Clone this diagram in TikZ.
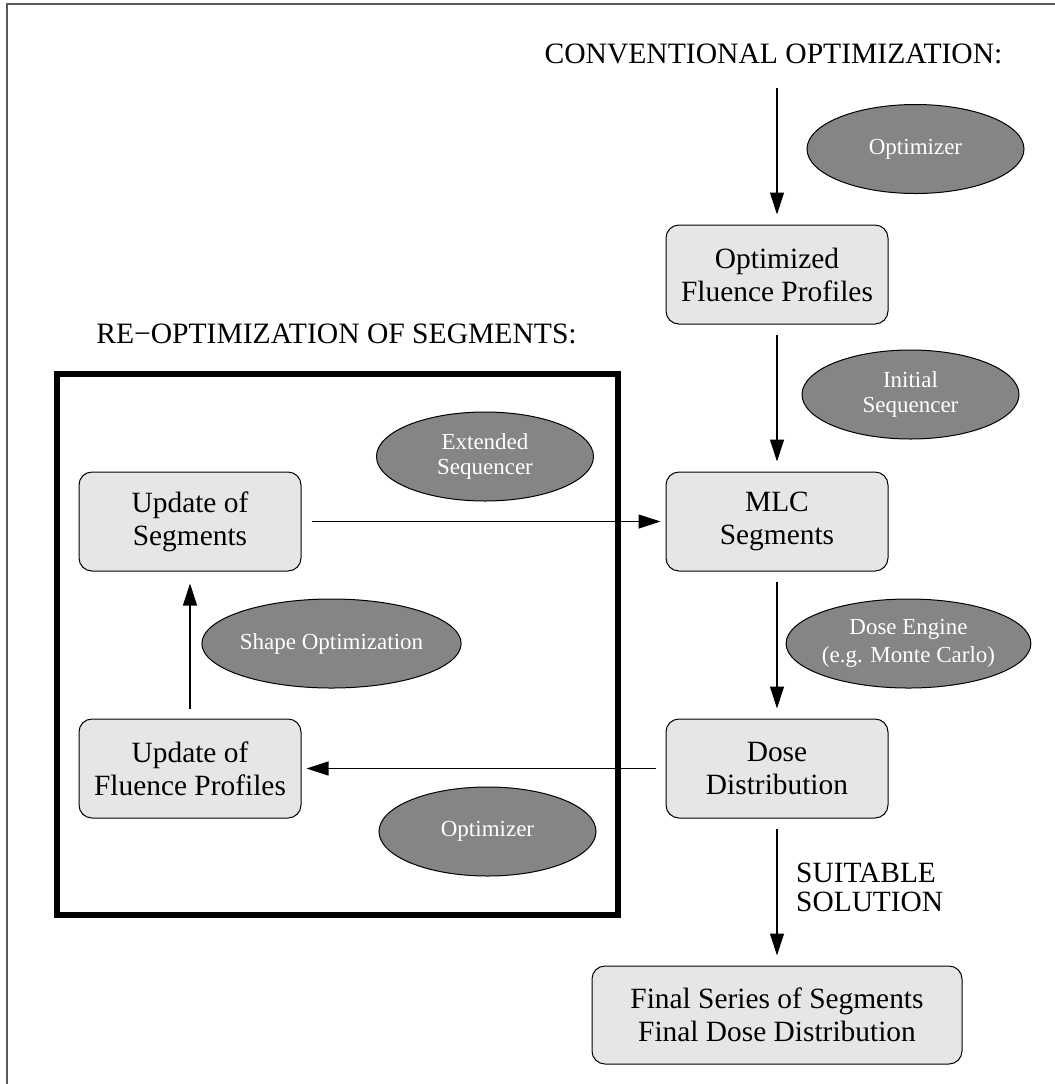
\documentclass[tikz,border=0pt]{standalone}
\usepackage{fontspec}
\setmainfont{Liberation Serif}
\usetikzlibrary{arrows.meta,positioning,shapes.geometric}
\definecolor{imrtlight}{HTML}{E6E6E6}
\definecolor{imrtdark}{HTML}{858585}
\tikzset{
  imrtbox/.style={draw, rounded corners=6.5pt, align=center, minimum width=111pt, minimum height=49.5pt, inner sep=0pt, fill=imrtlight, line width=0.5pt, font=\fontsize{14.7}{16.5}\selectfont},
  imrtwide/.style={imrtbox, minimum width=185pt, minimum height=49pt},
  imrtoval/.style={draw, ellipse, align=center, minimum width=108.5pt, minimum height=44.5pt, inner sep=0pt, fill=imrtdark, text=white, line width=0.5pt, font=\fontsize{11.5}{12.3}\selectfont},
  imrttitle/.style={anchor=base, font=\fontsize{14.8}{14.8}\selectfont},
  imrtlabel/.style={align=left, font=\fontsize{14.7}{14.5}\selectfont},
  imrtarrow/.style={-{Triangle[length=11pt,width=7pt]}, line width=0.55pt, shorten <=5pt, shorten >=5pt}
}

\begin{document}
\begin{tikzpicture}[x=0.5pt, y=-0.5pt, node distance=73.5pt and 182pt]
\useasboundingbox (0,0) rectangle (1055,1084);
\draw[black!65, line width=0.8pt] (7,1084) -- (7,4) -- (1055,4);
% conventional chain
\node[imrttitle] (convtitle) at (773.5,63) {CONVENTIONAL OPTIMIZATION:};
\coordinate (convstart) at (777,88);
\node[imrtbox] (optfl) at (777,274.5) {Optimized\\Fluence Profiles};
\node[imrtbox, below=of optfl] (mlc) {MLC\\Segments};
\node[imrtbox, below=of mlc] (dose) {Dose\\Distribution};
\node[imrtwide, below=of dose] (final) {Final Series of Segments\\Final Dose Distribution};
\node[imrtoval] (optim) at (915.5,149) {Optimizer};
\node[imrtoval] (initseq) at (910.5,394.5) {Initial\\Sequencer};
\node[imrtoval] (doseeng) at (908.5,643.5) {Dose Engine\\[2pt](e.g. Monte Carlo)};
% re-optimization loop
\node[imrttitle] (reopttitle) at (336.5,343) {RE−OPTIMIZATION OF SEGMENTS:};
\draw[line width=3pt] (56.5,373.5) rectangle (618,915);
\node[imrtbox, left=of mlc] (updseg) {Update of\\Segments};
\node[imrtbox, left=of dose] (updfl) {Update of\\Fluence Profiles};
\node[imrtoval] (extseq) at (485,456.5) {Extended\\Sequencer};
\node[imrtoval] (shapeopt) at (331.5,643.5) {Shape Optimization};
\node[imrtoval] (reopt) at (487.5,831.5) {Optimizer};
\draw[imrtarrow, shorten <=0pt] (convstart) -- (optfl);
\draw[imrtarrow] (optfl) -- (mlc);
\draw[imrtarrow] (mlc) -- (dose);
\draw[imrtarrow] (dose) -- node[imrtlabel, right=6pt, yshift=2.5pt] (suitable) {SUITABLE\\SOLUTION} (final);
\draw[imrtarrow, shorten >=2.5pt] (updseg) -- (mlc);
\draw[imrtarrow, shorten >=2.5pt] (dose) -- (updfl);
\draw[imrtarrow, shorten >=6pt] (updfl) -- (updseg);
\end{tikzpicture}
\end{document}
